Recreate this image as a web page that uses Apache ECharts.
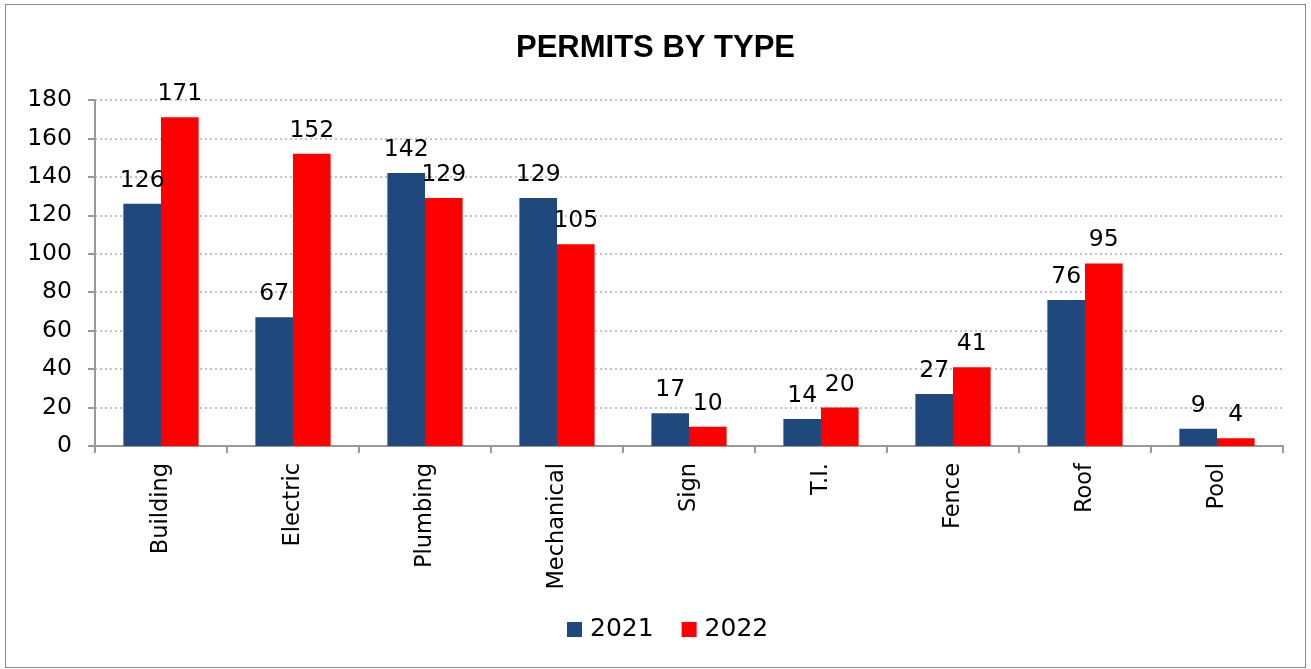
<!DOCTYPE html>
<html>
<head>
<meta charset="utf-8">
<script src="https://cdn.jsdelivr.net/npm/echarts@6/dist/echarts.min.js"></script>
<style>
html,body{margin:0;padding:0;background:#fff;}
#c{width:1311px;height:669px;}
#frame{position:absolute;left:5px;top:4px;width:1301px;height:664px;border:1.5px solid #8c8c8c;pointer-events:none;box-sizing:border-box;}
</style>
</head>
<body>
<div id="c"></div>
<div id="frame"></div>
<script>
const categories = ['Building','Electric','Plumbing','Mechanical','Sign','T.I.','Fence','Roof','Pool'];
const values2021 = [126, 67, 142, 129, 17, 14, 27, 76, 9];
const values2022 = [171, 152, 129, 105, 10, 20, 41, 95, 4];
const seriesNames = ['2021', '2022'];

const chart = echarts.init(document.getElementById('c'), null, {renderer:'canvas'});
const font = 'DejaVu Sans';
const labelStyle = {show:true, position:'top', distance:11, color:'#000', fontSize:23.5, fontFamily:font};
chart.setOption({
  animation:false,
  title:{text:'PERMITS BY TYPE', left:'center', top:28,
    textStyle:{fontFamily:'Liberation Sans', fontWeight:'bold', fontSize:31, color:'#000'}},
  legend:{bottom:22, left:562, itemWidth:15, itemHeight:15, itemGap:28, icon:'rect',
    textStyle:{fontFamily:font, fontSize:25, color:'#000', padding:[0,0,0,3]}, data:seriesNames},
  grid:{left:95, right:28, top:100, bottom:223, containLabel:false},
  xAxis:{type:'category', data:categories,
    axisLine:{lineStyle:{color:'#999', width:2}},
    axisTick:{show:true, length:7, lineStyle:{color:'#999', width:2}},
    axisLabel:{rotate:90, margin:17, color:'#000', fontSize:22.5, fontFamily:font}},
  yAxis:{type:'value', min:0, max:180, interval:20,
    axisLine:{show:true, lineStyle:{color:'#999', width:2}},
    axisTick:{show:true, length:7, lineStyle:{color:'#999', width:2}},
    axisLabel:{margin:23, color:'#000', fontSize:23.5, fontFamily:font},
    splitLine:{show:true, lineStyle:{color:'#b0b0b0', type:[2,3], width:1.5}}},
  series:[
    {name:seriesNames[0], type:'bar', data:values2021, barGap:'0%', barCategoryGap:'43%',
      itemStyle:{color:'#1F497D'}, label:labelStyle},
    {name:seriesNames[1], type:'bar', data:values2022,
      itemStyle:{color:'#FF0000'}, label:labelStyle}
  ]
});
</script>
</body>
</html>
